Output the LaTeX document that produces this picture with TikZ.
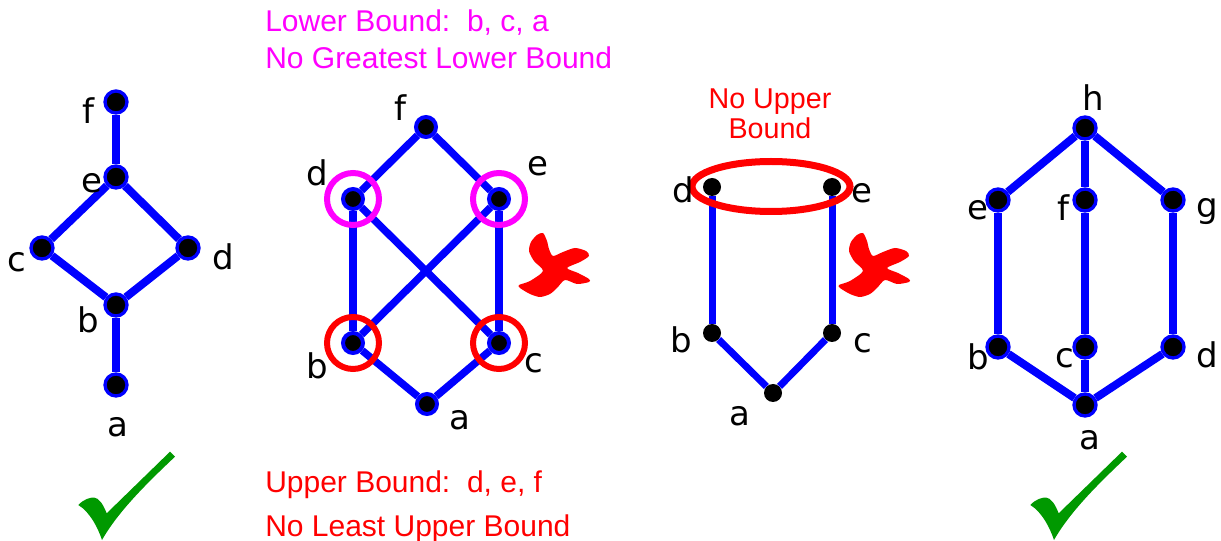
\documentclass[tikz,border=0pt]{standalone}
\usepackage{fontspec}
\setmainfont{DejaVu Sans}
\newfontfamily\arialf{Liberation Sans}
\definecolor{chkgreen}{RGB}{0,153,0}
\definecolor{mag}{RGB}{255,0,255}
\definecolor{rd}{RGB}{255,0,0}
\definecolor{bl}{RGB}{0,0,255}
\tikzset{
  dotA/.style={circle, fill=black, draw=bl, line width=2.5pt, minimum size=16.5pt, inner sep=0pt},
  dotB/.style={circle, fill=black, draw=bl, line width=3pt, minimum size=15pt, inner sep=0pt},
  dotC/.style={circle, fill=black, minimum size=13.5pt, inner sep=0pt},
  edgeA/.style={draw=bl, line width=6pt},
  edgeB/.style={draw=bl, line width=5.6pt},
  edgeC/.style={draw=bl, line width=5.25pt},
  lbl/.style={inner sep=0pt, font=\fontsize{25.5}{30}\selectfont},
  note/.style={inner sep=0pt, font=\arialf\fontsize{22.5}{27}\selectfont},
  ring/.style={line width=4.5pt},
  chk/.pic={\fill[chkgreen] (78.3,505) .. controls (84,499) and (90,497.5) .. (94,497.5)
      .. controls (99,498) and (103,504) .. (106.7,513.3) -- (170,451.7) -- (175,456.7)
      .. controls (145,485) and (118,512) .. (102,540)
      .. controls (98,528) and (90,512) .. (78.3,505) -- cycle;},
  cross/.pic={\fill[rd] plot[smooth cycle, tension=0.45] coordinates {
      (543,233) (547,241) (549,249) (553,256) (563,252) (575,248) (586,251)
      (589,256) (580,262) (567,268) (578,273) (589,279) (589,282) (577,284)
      (565,280) (557,288) (550,294) (540,297) (530,294) (520,288) (519,285)
      (530,281) (543,271) (534,261) (529,251) (531,242) (537,235)};}
}
\begin{document}
\begin{tikzpicture}[x=0.75pt, y=-0.75pt]
\useasboundingbox (0,0) rectangle (1221,541);
\fill[white] (0,0) rectangle (1221,541);

% ---------- graph 1
\node[dotA] (f1) at (116,102) {};
\node[dotA] (e1) at (116,177) {};
\node[dotA] (c1) at (42,248) {};
\node[dotA] (d1) at (188,248) {};
\node[dotA] (b1) at (116,305) {};
\node[dotA] (a1) at (116,385) {};
\draw[edgeA] (f1) -- (e1);
\draw[edgeA] (e1) -- (c1);
\draw[edgeA] (e1) -- (d1);
\draw[edgeA] (c1) -- (b1);
\draw[edgeA] (d1) -- (b1);
\draw[edgeA] (b1) -- (a1);
\node[lbl] (lf1) at (88,111) {f};
\node[lbl] (le1) at (92,183) {e};
\node[lbl] (lc1) at (17,262) {c};
\node[lbl] (ld1) at (223,257) {d};
\node[lbl] (lb1) at (88,320) {b};
\node[lbl] (la1) at (118,427) {a};

% ---------- graph 2
\node[dotB] (f2) at (426,127) {};
\node[dotB] (d2) at (353,199) {};
\node[dotB] (e2) at (499,199) {};
\node[dotB] (b2) at (353,343) {};
\node[dotB] (c2) at (499,343) {};
\node[dotB] (a2) at (427,404) {};
\draw[edgeB] (f2) -- (d2);
\draw[edgeB] (f2) -- (e2);
\draw[edgeB] (d2) -- (b2);
\draw[edgeB] (d2) -- (c2);
\draw[edgeB] (e2) -- (b2);
\draw[edgeB] (e2) -- (c2);
\draw[edgeB] (b2) -- (a2);
\draw[edgeB] (c2) -- (a2);
\draw[ring, mag] (d2.center) circle[radius=26];
\draw[ring, mag] (e2.center) circle[radius=26];
\draw[ring, rd] (b2.center) circle[radius=26];
\draw[ring, rd] (c2.center) circle[radius=26];
\node[lbl] (lf2) at (400,108) {f};
\node[lbl] (ld2) at (317,173) {d};
\node[lbl] (le2) at (538,166) {e};
\node[lbl] (lb2) at (317,366) {b};
\node[lbl] (lc2) at (534,363) {c};
\node[lbl] (la2) at (460,420) {a};
\node[note, mag, anchor=base west] (lowb) at (265,32) {Lower Bound:\ \ b, c, a};
\node[note, mag, anchor=base west] (noglb) at (265,69) {No Greatest Lower Bound};
\node[note, rd, anchor=base west] (uppb) at (265,493) {Upper Bound:\ \ d, e, f};
\node[note, rd, anchor=base west] (nolub) at (265,536) {No Least Upper Bound};
\pic at (0,0) {cross};

% ---------- graph 3
\node[dotC] (d3) at (712,187) {};
\node[dotC] (e3) at (832,187) {};
\node[dotC] (b3) at (712,333) {};
\node[dotC] (c3) at (832,333) {};
\node[dotC] (a3) at (773,393) {};
\draw[edgeC] (d3) -- (b3);
\draw[edgeC] (e3) -- (c3);
\draw[edgeC] (b3) -- (a3);
\draw[edgeC] (c3) -- (a3);
\draw[rd, line width=5.25pt] (771,186.5) ellipse[x radius=79, y radius=25];
\node[lbl] (ld3) at (683,190) {d};
\node[lbl] (le3) at (862,193) {e};
\node[lbl] (lb3) at (681,340) {b};
\node[lbl] (lc3) at (863,343) {c};
\node[lbl] (la3) at (740,416) {a};
\node[note, rd, anchor=base, font=\arialf\fontsize{21.5}{26}\selectfont] (nub1) at (770,109) {No Upper};
\node[note, rd, anchor=base, font=\arialf\fontsize{21.5}{26}\selectfont] (nub2) at (770,139) {Bound};
\pic at (320,0) {cross};

% ---------- graph 4
\node[dotA] (h4) at (1085,128) {};
\node[dotA] (e4) at (998,200) {};
\node[dotA] (f4) at (1085,200) {};
\node[dotA] (g4) at (1173,200) {};
\node[dotA] (b4) at (998,347) {};
\node[dotA] (c4) at (1085,347) {};
\node[dotA] (d4) at (1173,347) {};
\node[dotA] (a4) at (1085,405) {};
\draw[edgeA] (h4) -- (e4);
\draw[edgeA] (h4) -- (f4);
\draw[edgeA] (h4) -- (g4);
\draw[edgeA] (e4) -- (b4);
\draw[edgeA] (f4) -- (c4);
\draw[edgeA] (g4) -- (d4);
\draw[edgeA] (b4) -- (a4);
\draw[edgeA] (c4) -- (a4);
\draw[edgeA] (d4) -- (a4);
\node[lbl] (lh4) at (1093,98) {h};
\node[lbl] (le4) at (978,210) {e};
\node[lbl] (lf4) at (1063,208) {f};
\node[lbl] (lg4) at (1207,212) {g};
\node[lbl] (lb4) at (978,357) {b};
\node[lbl] (lc4) at (1065,358) {c};
\node[lbl] (ld4) at (1207,355) {d};
\node[lbl] (la4) at (1090,440) {a};

% ---------- check marks
\pic at (0,0) {chk};
\pic at (952,0) {chk};
\end{tikzpicture}
\end{document}
